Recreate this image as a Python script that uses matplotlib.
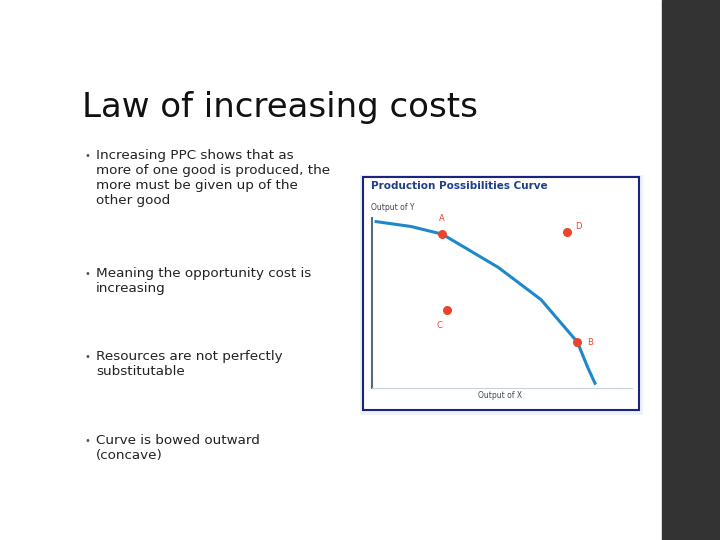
import matplotlib
matplotlib.use("Agg")
import matplotlib.pyplot as plt
from matplotlib.patches import Rectangle

curve_x = [0.1, 1.5, 2.7, 4.85, 6.5, 7.9, 8.3, 8.6]
curve_y = [9.8, 9.5, 9.05, 7.1, 5.2, 2.7, 1.2, 0.2]
pt_labels = ["A", "D", "C", "B"]
pt_x = [2.7, 7.5, 2.9, 7.9]
pt_y = [9.05, 9.2, 4.6, 2.7]

bullets = [
    ("Increasing PPC shows that as\nmore of one good is produced, the\nmore must be given up of the\nother good", 156),
    ("Meaning the opportunity cost is\nincreasing", 274),
    ("Resources are not perfectly\nsubstitutable", 357),
    ("Curve is bowed outward\n(concave)", 441),
]

W, H = 720, 540
fig = plt.figure(figsize=(7.2, 5.4), dpi=100)
fig.patch.set_facecolor("white")
fig.patches.append(Rectangle((662 / W, 0), 58 / W, 1, transform=fig.transFigure, color="#333333"))
fig.text(82 / W, 1 - 108 / H, "Law of increasing costs", fontsize=24.5, va="center", color="#111111")
for txt, y in bullets:
    fig.text(84 / W, 1 - y / H, "•", fontsize=7, va="center", color="#555555")
    fig.text(96 / W, 1 - (y - 7) / H, txt, fontsize=9.7, va="top", color="#222222", linespacing=1.2)

# chart frame
fig.patches.append(Rectangle((360 / W, 1 - 415 / H), 283 / W, 240 / H, transform=fig.transFigure,
                             facecolor="#eef1f7", edgecolor="none"))
fig.patches.append(Rectangle((363 / W, 1 - 410 / H), 276 / W, 233 / H, transform=fig.transFigure,
                             facecolor="white", edgecolor="#1a237e", lw=1.5))
fig.text(371 / W, 1 - 186 / H, "Production Possibilities Curve", fontsize=7.5, fontweight="bold",
         color="#1f3f8a", va="center")
fig.text(371 / W, 1 - 208 / H, "Output of Y", fontsize=5.5, color="#445", va="center")
fig.text(500 / W, 1 - 395 / H, "Output of X", fontsize=5.5, color="#445", va="center", ha="center")

ax = fig.add_axes([372 / W, 1 - 388 / H, 260 / W, 170 / H])
ax.set_zorder(5)
ax.set_xlim(0, 10)
ax.set_ylim(0, 10)
ax.plot(curve_x, curve_y, color="#1e88c8", lw=2.2, solid_capstyle="butt")
ax.scatter(pt_x, pt_y, s=30, color="#e8452c", zorder=3)
offs = {"A": (0, 0.9), "D": (0.45, 0.3), "C": (-0.3, -0.9), "B": (0.5, 0)}
for l, x, y in zip(pt_labels, pt_x, pt_y):
    dx, dy = offs[l]
    ax.text(x + dx, y + dy, l, fontsize=6, color="#e8452c", ha="center", va="center")
for s in ["top", "right"]:
    ax.spines[s].set_visible(False)
ax.spines["left"].set_color("#5a6a7a")
ax.spines["left"].set_linewidth(1.5)
ax.spines["bottom"].set_color("#c8d0dc")
ax.set_xticks([])
ax.set_yticks([])
ax.patch.set_alpha(0)

fig.savefig("out.png", dpi=100)
